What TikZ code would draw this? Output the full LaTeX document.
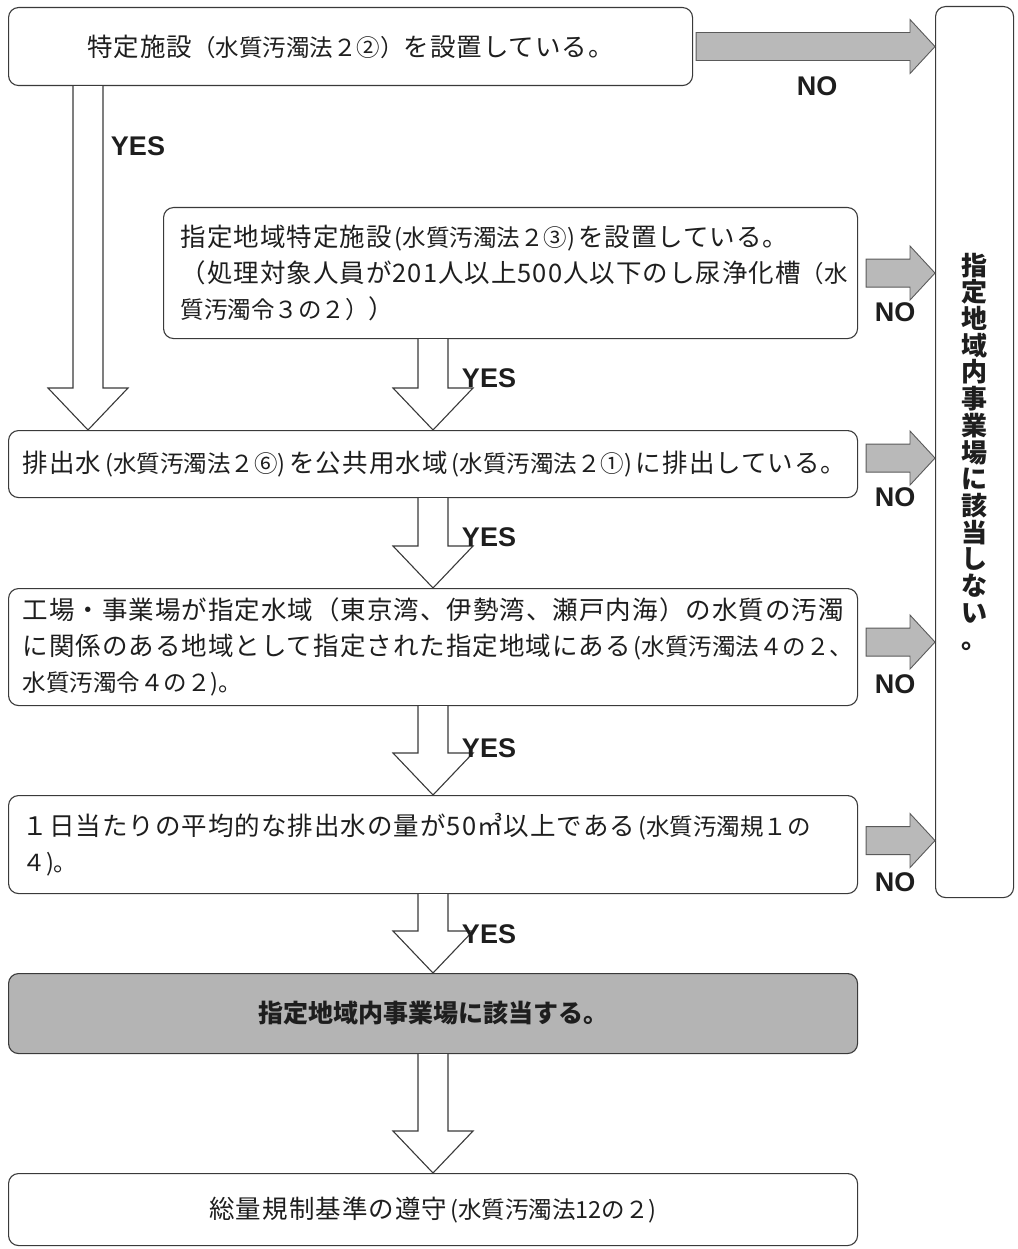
\documentclass[tikz,border=0pt]{standalone}
\usepackage{fontspec}
\setmainfont{Noto Sans CJK JP}
\newfontfamily\jpmain[LetterSpace=4]{Noto Sans CJK JP}
\newfontfamily\jpsmall{Noto Sans CJK JP}
\newfontfamily\latfont{Liberation Sans}
\usetikzlibrary{calc}
\definecolor{linec}{HTML}{3A3A3A}
\definecolor{textc}{HTML}{1E1E1E}
\definecolor{gfill}{HTML}{B9B9B9}
\definecolor{gline}{HTML}{5A5A5A}
\definecolor{boxfill}{HTML}{B4B4B4}
\newcommand{\jm}[1]{{\jpmain\fontsize{25.5}{36}\selectfont #1}}
\newcommand{\js}[1]{{\jpsmall\fontsize{23.5}{36}\selectfont #1}}
\newcommand{\hollowarrow}[2]{%
  \draw[harrow] ($(#1)+(-15,0)$) -- ($(#2)+(-15,-42)$) -- ($(#2)+(-40,-42)$) -- (#2)
    -- ($(#2)+(40,-42)$) -- ($(#2)+(15,-42)$) -- ($(#1)+(15,0)$);}
\newcommand{\grayarrow}[2]{%
  \draw[garrow] ($(#1)+(0,-14)$) -- ($(#2)+(-25,-14)$) -- ($(#2)+(-25,-27)$) -- (#2)
    -- ($(#2)+(-25,27)$) -- ($(#2)+(-25,14)$) -- ($(#1)+(0,14)$) -- cycle;}
\tikzset{
  box/.style={draw=linec, line width=1.1pt, rounded corners=10pt, anchor=north west,
    inner ysep=0pt, text=textc, font=\jpmain\fontsize{25.5}{36}\selectfont},
  lbox/.style={box, align=left, inner xsep=14pt},
  cbox/.style={box, align=center, inner xsep=0pt},
  harrow/.style={draw=linec, line width=1.1pt, fill=white, line join=miter},
  garrow/.style={draw=gline, line width=0.9pt, fill=gfill},
  yn/.style={font=\latfont\bfseries\fontsize{27}{27}\selectfont, text=textc, inner sep=0pt},
}
\begin{document}
\begin{tikzpicture}[x=1pt,y=-1pt]
\useasboundingbox (0,0) rectangle (1017,1249);
% boxes
\node[cbox, minimum width=684pt, minimum height=78pt] (b1) at (8,7)
  {\jm{特定施設}\js{（水質汚濁法２②）}\jm{を設置している。}};
\node[lbox, inner xsep=17pt, text width=660pt, minimum height=131pt] (b2) at (163,207)
  {\jm{指定地域特定施設}\js{\kern3pt(水質汚濁法２③)\kern3pt}\jm{を設置している。}\\
   \jm{（処理対象人員が201人以上500人以下のし尿浄化槽}\js{（水}\\
   \js{質汚濁令３の２）}\jm{）}};
\node[lbox, text width=821pt, minimum height=67pt] (b3) at (8,430)
  {\jm{排出水}\js{\kern4pt(水質汚濁法２⑥)\kern4pt}\jm{を公共用水域}\js{\kern4pt(水質汚濁法２①)\kern4pt}\jm{に排出している。}};
\node[lbox, text width=821pt, minimum height=117pt] (b4) at (8,588)
  {\jm{工場・事業場が指定水域（東京湾、伊勢湾、瀬戸内海）の水質の汚濁}\\
   \jm{に関係のある地域として指定された指定地域にある}\js{\kern3pt(水質汚濁法４の２、}\\
   \js{水質汚濁令４の２)。}};
\node[lbox, text width=821pt, minimum height=98pt] (b5) at (8,795)
  {\jm{１日当たりの平均的な排出水の量が50㎥以上である}\js{\kern3pt(水質汚濁規１の}\\
   \js{４)。}};
\node[cbox, fill=boxfill, minimum width=849pt, minimum height=80pt,
  font=\bfseries\fontsize{25}{30}\selectfont] (b6) at (8,973) {指定地域内事業場に該当する。};
\node[cbox, minimum width=849pt, minimum height=72pt] (b7) at (8,1173)
  {\jm{総量規制基準の遵守}\js{\kern3pt(水質汚濁法12の２)}};
\node[box, minimum width=78pt, minimum height=891pt] (R) at (935,6) {};
\node[align=center, inner sep=0pt, text=textc, font=\bfseries\fontsize{26}{26.7}\selectfont]
  (Rt) at (R.center) {指\\定\\地\\域\\内\\事\\業\\場\\に\\該\\当\\し\\な\\い\\。};
% hollow YES arrows
\coordinate (xL) at (88,0);
\coordinate (xM) at (433,0);
\coordinate (a1s) at (b1.south -| xL); \coordinate (a1e) at (b3.north -| xL);
\coordinate (a2s) at (b2.south -| xM); \coordinate (a2e) at (b3.north -| xM);
\coordinate (a3s) at (b3.south -| xM); \coordinate (a3e) at (b4.north -| xM);
\coordinate (a4s) at (b4.south -| xM); \coordinate (a4e) at (b5.north -| xM);
\coordinate (a5s) at (b5.south -| xM); \coordinate (a5e) at (b6.north -| xM);
\coordinate (a6s) at (b6.south -| xM); \coordinate (a6e) at (b7.north -| xM);
\hollowarrow{a1s}{a1e}
\hollowarrow{a2s}{a2e}
\hollowarrow{a3s}{a3e}
\hollowarrow{a4s}{a4e}
\hollowarrow{a5s}{a5e}
\hollowarrow{a6s}{a6e}
% gray NO arrows
\coordinate (n1s) at ($(b1.east)+(3,0)$); \coordinate (n1e) at (R.west |- n1s);
\coordinate (n2s) at ($(b2.east)+(8,0)$); \coordinate (n2e) at (R.west |- n2s);
\coordinate (n3s) at ($(b3.east)+(8,-6)$); \coordinate (n3e) at (R.west |- n3s);
\coordinate (n4s) at ($(b4.east)+(8,-5)$); \coordinate (n4e) at (R.west |- n4s);
\coordinate (n5s) at ($(b5.east)+(8,-4)$); \coordinate (n5e) at (R.west |- n5s);
\grayarrow{n1s}{n1e}
\grayarrow{n2s}{n2e}
\grayarrow{n3s}{n3e}
\grayarrow{n4s}{n4e}
\grayarrow{n5s}{n5e}
% labels
\node[yn] (y1) at (138,146) {YES};
\node[yn] (y2) at (489,378) {YES};
\node[yn] (y3) at (489,537) {YES};
\node[yn] (y4) at (489,748) {YES};
\node[yn] (y5) at (489,934) {YES};
\node[yn] (no1) at (817,86) {NO};
\node[yn] (no2) at (895,312) {NO};
\node[yn] (no3) at (895,497) {NO};
\node[yn] (no4) at (895,684) {NO};
\node[yn] (no5) at (895,882) {NO};
\end{tikzpicture}
\end{document}
